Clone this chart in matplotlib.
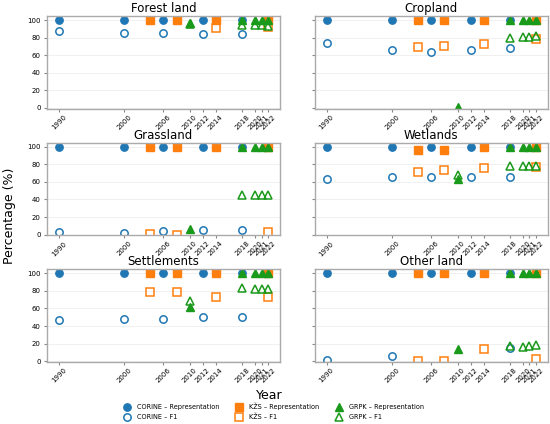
import numpy as np
import matplotlib
matplotlib.use("Agg")
import matplotlib.pyplot as plt

nan = np.nan

# years for each data source
corine_years = [1990, 2000, 2006, 2012, 2018]
kzs_years = [2004, 2008, 2014, 2022]
grpk_years = [2010, 2018, 2020, 2021, 2022]
tick_years = [1990, 2000, 2006, 2010, 2012, 2014, 2018, 2020, 2021, 2022]

classes = ["Forest land", "Cropland", "Grassland", "Wetlands", "Settlements", "Other land"]

# CORINE
corine_rep = {
    "Forest land": [100, 100, 100, 100, 100],
    "Cropland": [100, 100, 100, 100, 100],
    "Grassland": [100, 100, 100, 100, 100],
    "Wetlands": [100, 100, 100, 100, 100],
    "Settlements": [100, 100, 100, 100, 100],
    "Other land": [100, 100, 100, 100, 100],
}
corine_f1 = {
    "Forest land": [87, 85.5, 85, 84.5, 84.5],
    "Cropland": [73.4, 66.2, 63.5, 66, 67.7],
    "Grassland": [2.6, 2.2, 4.1, 5.6, 4.9],
    "Wetlands": [63.4, 65.7, 65.3, 65.3, 65.3],
    "Settlements": [46.6, 47.7, 48.5, 50, 50.4],
    "Other land": [1.5, 6, nan, nan, 15.4],
}

# KZS
kzs_rep = {
    "Forest land": [100, 100, 100, 100],
    "Cropland": [100, 100, 100, 100],
    "Grassland": [100, 100, 100, 100],
    "Wetlands": [96.6, 96.6, 99.6, 100],
    "Settlements": [100, 100, 100, 100],
    "Other land": [100, 100, 100, 100],
}
kzs_f1 = {
    "Forest land": [nan, nan, 90.8, 92],
    "Cropland": [68.8, 71, 72.9, 78],
    "Grassland": [0.7, 0, nan, 3.4],
    "Wetlands": [70.9, 73.9, 76, 77],
    "Settlements": [79, 79.3, 72.9, 72.9],
    "Other land": [0.8, 0.8, 13.5, 3],
}

# GRPK
grpk_rep = {
    "Forest land": [96.5, 100, 100, 100, 100],
    "Cropland": [1, 100, 100, 100, 100],
    "Grassland": [6, 100, 100, 100, 100],
    "Wetlands": [63.4, 100, 100, 100, 100],
    "Settlements": [61.7, 100, 100, 100, 100],
    "Other land": [14.3, 100, 100, 100, 100],
}
grpk_f1 = {
    "Forest land": [95, 94.5, 94, 94, 93.5],
    "Cropland": [nan, 79.3, 80.5, 80.5, 81.6],
    "Grassland": [nan, 45, 44.8, 44.8, 44.8],
    "Wetlands": [67.5, 78.4, 78, 78, 77.6],
    "Settlements": [68.4, 83, 82.3, 82.3, 81.9],
    "Other land": [nan, 17, 16.2, 17.3, 18],
}

c_blue = "#1f77b4"
c_orange = "#ff7f0e"
c_green = "#1a9a1a"

fig, axes = plt.subplots(3, 2, figsize=(5.5, 4.24), dpi=100, sharey=True)
fig.subplots_adjust(left=0.0855, right=0.996, top=0.962, bottom=0.146,
                    wspace=0.15, hspace=0.366)

ms = 5.3
for ax, name in zip(axes.flat, classes):
    ax.plot(corine_years, corine_rep[name], "o", color=c_blue, ms=ms,
            ls="none", label="CORINE – Representation")
    ax.plot(corine_years, corine_f1[name], "o", mfc="none", mec=c_blue,
            mew=1.1, ms=ms, ls="none", label="CORINE – F1")
    ax.plot(kzs_years, kzs_rep[name], "s", color=c_orange, ms=ms,
            ls="none", label="KŽS – Representation")
    ax.plot(kzs_years, kzs_f1[name], "s", mfc="none", mec=c_orange,
            mew=1.1, ms=ms, ls="none", label="KŽS – F1")
    ax.plot(grpk_years, grpk_rep[name], "^", color=c_green, ms=ms,
            ls="none", label="GRPK – Representation")
    ax.plot(grpk_years, grpk_f1[name], "^", mfc="none", mec=c_green,
            mew=1.1, ms=ms, ls="none", label="GRPK – F1")

    ax.set_title(name, fontsize=8.5, pad=3)
    ax.set_xlim(1988.2, 2023.8)
    ax.set_ylim(-1, 104.5)
    ax.set_yticks([0, 20, 40, 60, 80, 100])
    ax.set_xticks(tick_years)
    ax.set_xticklabels([str(y) for y in tick_years], rotation=45, fontsize=5)
    ax.tick_params(axis="y", labelsize=5, length=2.5, pad=2, color="#888888")
    ax.tick_params(axis="x", length=2.5, pad=1, color="#888888")
    ax.grid(axis="y", color="#eeeeee", lw=0.6)
    ax.set_axisbelow(True)
    for sp in ax.spines.values():
        sp.set_color("#aaaaaa")
        sp.set_linewidth(1.0)

fig.text(0.018, 0.49, "Percentage (%)", rotation=90, va="center",
         ha="center", fontsize=9)
fig.text(0.49, 0.068, "Year", ha="center", va="center", fontsize=9)

handles, labels = axes[0, 0].get_legend_handles_labels()
fig.legend(handles, labels, ncol=3, loc="center", bbox_to_anchor=(0.495, 0.029),
           fontsize=4.7, frameon=False, handletextpad=0.55, columnspacing=2.0,
           labelspacing=0.55, markerscale=1.0)

plt.savefig("out.png", dpi=100)
